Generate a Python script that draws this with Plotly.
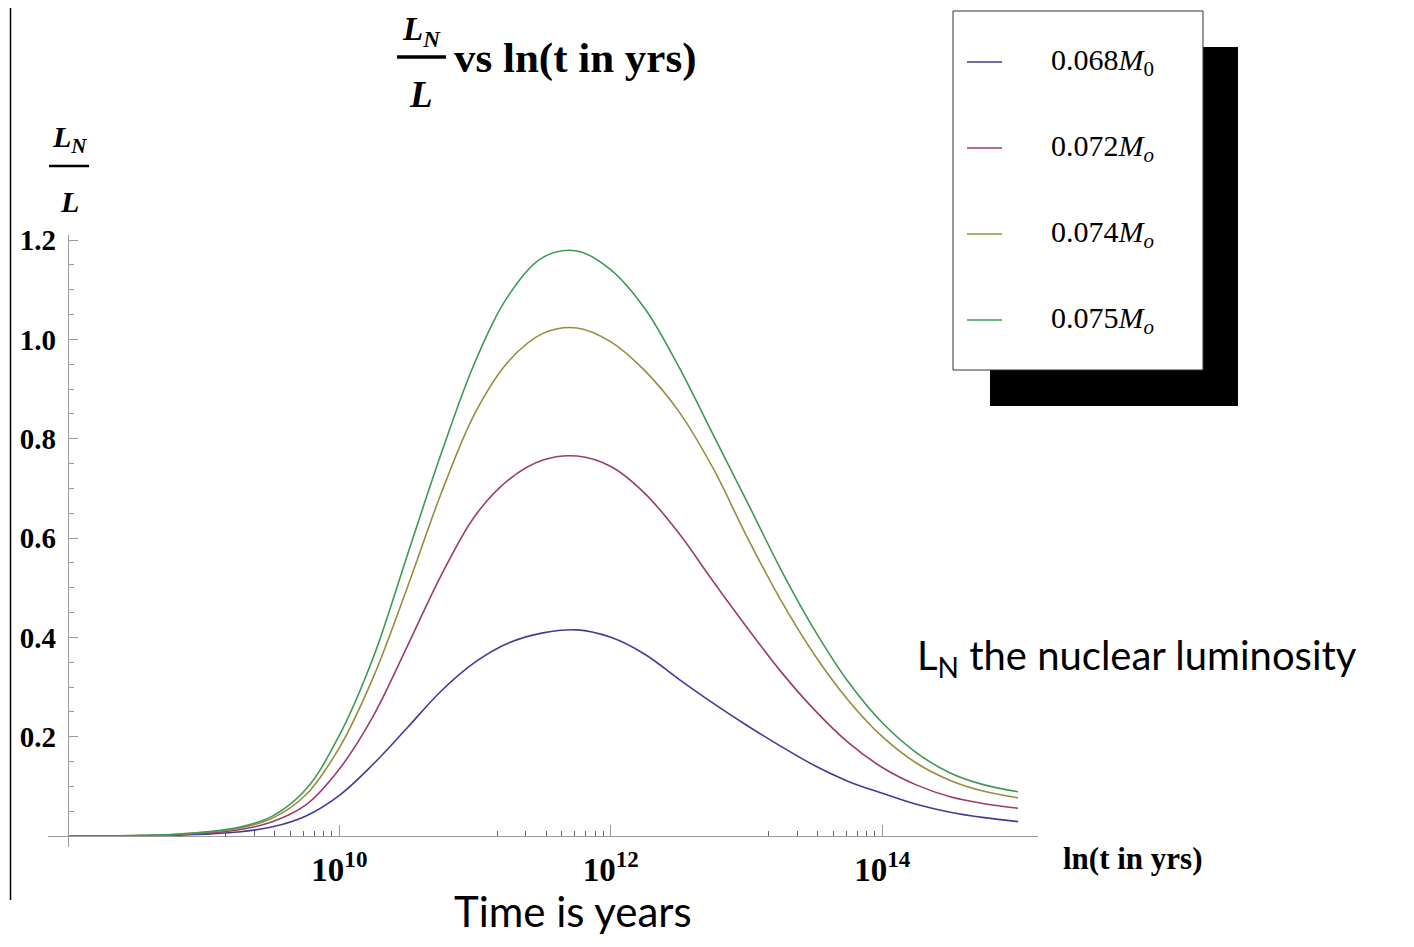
import numpy as np
import plotly.graph_objects as go

# ---------------- data ----------------
LOG10_T = [8.0, 8.25, 8.5, 8.75, 9.0, 9.25, 9.5, 9.75, 10.0, 10.25, 10.5, 10.75, 11.0,
           11.25, 11.5, 11.75, 12.0, 12.25, 12.5, 12.75, 13.0, 13.25, 13.5, 13.75,
           14.0, 14.25, 14.5, 14.75, 15.0]

M_068 = [0.0, 0.0002, 0.0004, 0.0012, 0.0035, 0.008, 0.018, 0.040, 0.082, 0.145, 0.218,
         0.292, 0.350, 0.389, 0.409, 0.415, 0.400, 0.366, 0.316, 0.268, 0.223, 0.181,
         0.142, 0.110, 0.086, 0.064, 0.048, 0.037, 0.029]
M_072 = [0.0, 0.0003, 0.0007, 0.002, 0.0055, 0.012, 0.028, 0.062, 0.135, 0.242, 0.382,
         0.525, 0.645, 0.718, 0.757, 0.765, 0.744, 0.690, 0.610, 0.514, 0.421, 0.332,
         0.254, 0.188, 0.138, 0.103, 0.079, 0.065, 0.056]
M_074 = [0.0, 0.0004, 0.001, 0.0027, 0.007, 0.015, 0.035, 0.082, 0.178, 0.320, 0.500,
         0.690, 0.852, 0.957, 1.012, 1.023, 0.995, 0.937, 0.855, 0.742, 0.604, 0.476,
         0.365, 0.273, 0.200, 0.147, 0.112, 0.090, 0.077]
M_075 = [0.0, 0.0005, 0.001, 0.003, 0.008, 0.017, 0.039, 0.093, 0.203, 0.360, 0.565,
         0.770, 0.955, 1.090, 1.165, 1.178, 1.140, 1.062, 0.945, 0.810, 0.675, 0.538,
         0.415, 0.310, 0.228, 0.168, 0.127, 0.103, 0.089]

SERIES = [M_068, M_072, M_074, M_075]
SERIES_LABELS = ["0.068<i>M</i><sub>0</sub>", "0.072<i>M</i><sub><i>o</i></sub>",
                 "0.074<i>M</i><sub><i>o</i></sub>", "0.075<i>M</i><sub><i>o</i></sub>"]
COLORS = ["#3f3d99", "#993d71", "#998c3d", "#3d9956"]

X_TICK_EXP = [10, 12, 14]
Y_TICKS = [0.2, 0.4, 0.6, 0.8, 1.0, 1.2]

# ---------------- geometry (screen pixels; page body has an 8px margin) ----------------
OFF = 8
W, H = 1414 - 2 * OFF, 947 - 2 * OFF
PLOT_L, PLOT_R, PLOT_T, PLOT_B = 48, 1038, 235, 847   # screen px
ML, MR = PLOT_L - OFF, W - (PLOT_R - OFF)
MT, MB = PLOT_T - OFF, H - (PLOT_B - OFF)
PW, PH = PLOT_R - PLOT_L, PLOT_B - PLOT_T
X_RANGE = [7.853, 15.147]      # log10 units
Y_RANGE = [-0.0221, 1.2101]


def px(x):
    return (x - PLOT_L) / PW


def py(y):
    return (PLOT_B - y) / PH


SERIF = "Liberation Serif"
SANS = "Lato"
AXIS_COL = "#9a9a9a"

fig = go.Figure()
t_vals = [10 ** e for e in LOG10_T]
for vals, lab, col in zip(SERIES, SERIES_LABELS, COLORS):
    fig.add_trace(go.Scatter(
        x=t_vals, y=vals, mode="lines", name=lab,
        line=dict(color=col, width=1.6, shape="spline", smoothing=1.0),
        showlegend=False, hoverinfo="skip"))

minor_x = []
for e in X_TICK_EXP:
    for k in range(2, 10):
        minor_x.append(10 ** (e - 1.2 * np.log10(10 / k)))

x_pos = (0 - Y_RANGE[0]) / (Y_RANGE[1] - Y_RANGE[0])
y_pos = (8 - X_RANGE[0]) / (X_RANGE[1] - X_RANGE[0])

fig.update_layout(
    width=W, height=H,
    margin=dict(l=ML, r=MR, t=MT, b=MB, pad=0),
    paper_bgcolor="white", plot_bgcolor="white",
    showlegend=False,
    xaxis=dict(
        type="log", range=X_RANGE, anchor="free", position=x_pos,
        showline=True, linecolor=AXIS_COL, linewidth=1.2,
        showgrid=False, zeroline=False,
        tickmode="array",
        tickvals=[10 ** e for e in X_TICK_EXP],
        ticktext=[f"10<sup>{e}</sup>" for e in X_TICK_EXP],
        ticks="inside", ticklen=11, tickwidth=1.2, tickcolor=AXIS_COL,
        tickfont=dict(family=SERIF, size=33, color="black", weight="bold"),
        ticklabelstandoff=4,
        minor=dict(tickmode="array", tickvals=minor_x, ticks="inside", ticklen=5,
                   tickwidth=1, tickcolor="#666666", showgrid=False),
    ),
    yaxis=dict(
        range=Y_RANGE, anchor="free", position=y_pos,
        showline=True, linecolor=AXIS_COL, linewidth=1.2,
        showgrid=False, zeroline=False,
        tickmode="array", tickvals=Y_TICKS, tickformat=".1f",
        ticks="inside", ticklen=9, tickwidth=1.2, tickcolor=AXIS_COL,
        tickfont=dict(family=SERIF, size=29, color="black", weight="bold"),
        ticklabelstandoff=6,
        minor=dict(dtick=0.05, tick0=0, ticks="inside", ticklen=5,
                   tickwidth=1, tickcolor=AXIS_COL, showgrid=False),
    ),
)

shapes = []
annotations = []

# left border of the screenshot
shapes.append(dict(type="line", xref="paper", yref="paper", x0=px(10.5), x1=px(10.5),
                   y0=py(8), y1=py(900), line=dict(color="black", width=1.5), layer="above"))

# title: fraction + text
annotations += [
    dict(text="<b><i>L</i></b><sub><b><i>N</i></b></sub>", x=px(421), y=py(9),
         yanchor="top", font=dict(family=SERIF, size=33, color="black")),
    dict(text="<b><i>L</i></b>", x=px(421), y=py(95),
         font=dict(family=SERIF, size=37, color="black")),
    dict(text="<b>vs ln(t in yrs)</b>", x=px(452), y=py(58), xanchor="left",
         font=dict(family=SERIF, size=43, color="black")),
]
shapes.append(dict(type="line", xref="paper", yref="paper", x0=px(397), x1=px(446),
                   y0=py(57), y1=py(57), line=dict(color="black", width=3.5), layer="above"))

# y axis label fraction
annotations += [
    dict(text="<b><i>L</i></b><sub><b><i>N</i></b></sub>", x=px(69), y=py(139),
         font=dict(family=SERIF, size=30, color="black")),
    dict(text="<b><i>L</i></b>", x=px(69), y=py(201),
         font=dict(family=SERIF, size=30, color="black")),
]
shapes.append(dict(type="line", xref="paper", yref="paper", x0=px(49), x1=px(89),
                   y0=py(166), y1=py(166), line=dict(color="black", width=2.5), layer="above"))

# x axis label
annotations.append(dict(text="<b>ln(t in yrs)</b>", x=px(1061), y=py(858), xanchor="left",
                        font=dict(family=SERIF, size=31, color="black")))

# extra notes
annotations.append(dict(text="L<sub>N</sub> the nuclear luminosity", x=px(915), y=py(657),
                        xanchor="left", font=dict(family=SANS, size=40, color="black")))
annotations.append(dict(text="Time is years", x=px(573), y=py(911),
                        font=dict(family=SANS, size=42, color="black")))

# legend with drop shadow
shapes.append(dict(type="rect", xref="paper", yref="paper", x0=px(990), x1=px(1238),
                   y0=py(406), y1=py(47), fillcolor="black", line=dict(width=0), layer="above"))
shapes.append(dict(type="rect", xref="paper", yref="paper", x0=px(953), x1=px(1203),
                   y0=py(370), y1=py(11), fillcolor="white",
                   line=dict(color="#333333", width=1), layer="above"))
LEG_TOP, LEG_STEP = 62, 86
for i, (lab, col) in enumerate(zip(SERIES_LABELS, COLORS)):
    yy = LEG_TOP + i * LEG_STEP
    shapes.append(dict(type="line", xref="paper", yref="paper", x0=px(967), x1=px(1002),
                       y0=py(yy), y1=py(yy), line=dict(color=col, width=1.6), layer="above"))
    annotations.append(dict(text=lab, x=px(1049), y=py(yy), xanchor="left",
                            font=dict(family=SERIF, size=30, color="black")))

for a in annotations:
    a.update(xref="paper", yref="paper", showarrow=False)
    a.setdefault("xanchor", "center")
    a.setdefault("yanchor", "middle")

fig.update_layout(shapes=shapes, annotations=annotations)
fig.write_html("out.html")
